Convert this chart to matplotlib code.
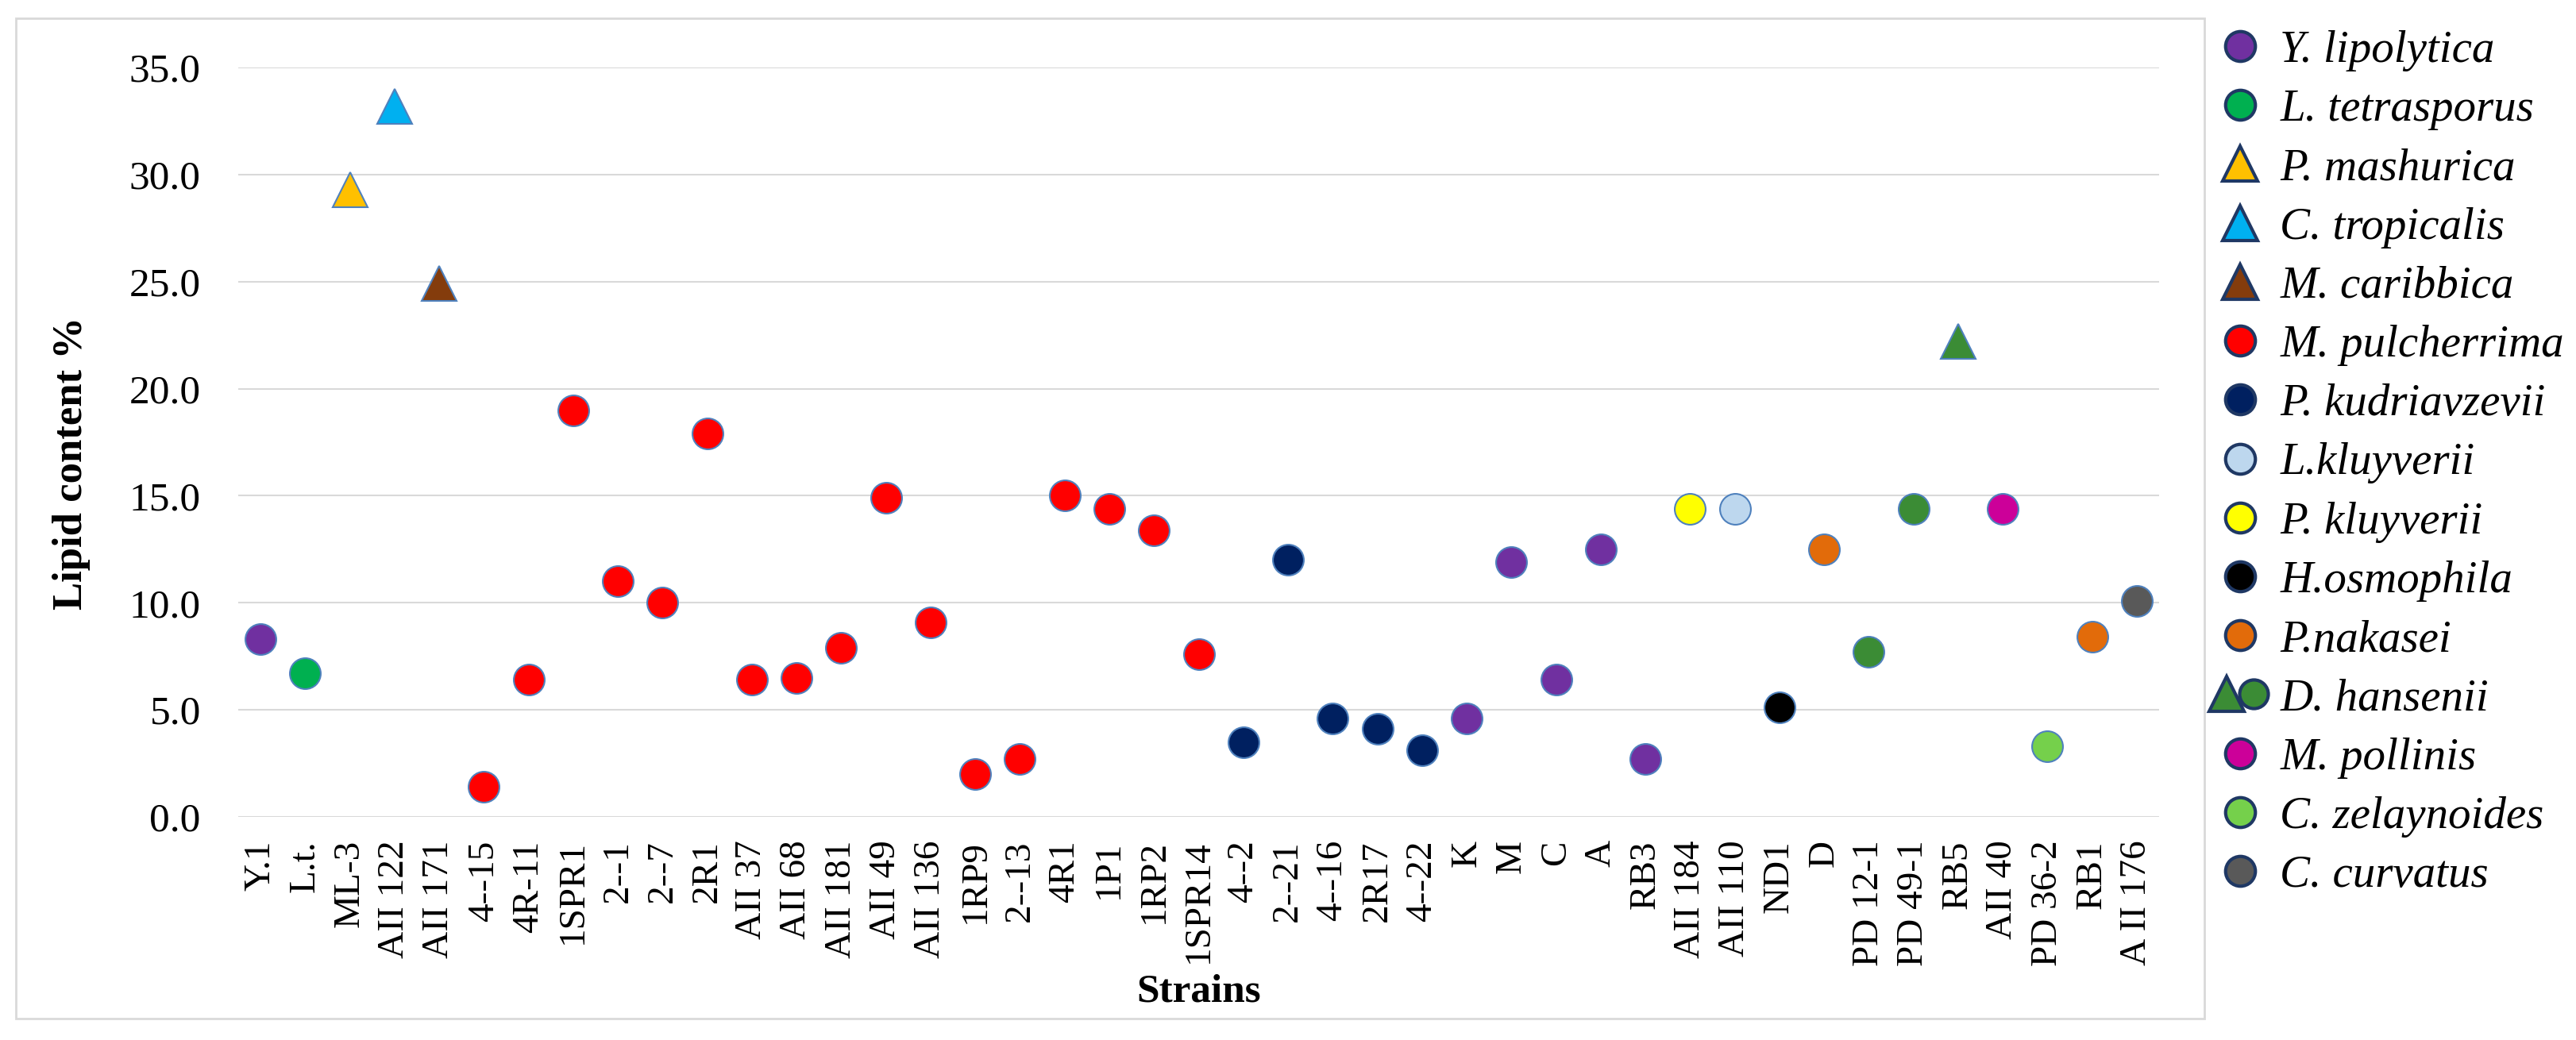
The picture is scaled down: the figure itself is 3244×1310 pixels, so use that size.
import matplotlib
matplotlib.use('Agg')
import matplotlib.pyplot as plt
from matplotlib.lines import Line2D
from matplotlib.patches import Rectangle
from matplotlib.legend_handler import HandlerTuple
from matplotlib.font_manager import FontProperties

plt.rcParams['font.family'] = ['Liberation Serif', 'DejaVu Serif']

# ---- data ----
strains = ['Y.1', 'L.t.', 'ML-3', 'AII 122', 'AII 171', '4--15', '4R-11', '1SPR1',
           '2--1', '2--7', '2R1', 'AII 37', 'AII 68', 'AII 181', 'AII 49', 'AII 136',
           '1RP9', '2--13', '4R1', '1P1', '1RP2', '1SPR14', '4--2', '2--21', '4--16',
           '2R17', '4--22', 'K', 'M', 'C', 'A', 'RB3', 'AII 184', 'AII 110', 'ND1', 'D',
           'PD 12-1', 'PD 49-1', 'RB5', 'AII 40', 'PD 36-2', 'RB1', 'A II 176']

lipid = [8.3, 6.7, 29.3, 33.2, 24.9, 1.4, 6.4, 19.0, 11.0, 10.0, 17.9, 6.4, 6.5,
         7.9, 14.9, 9.1, 2.0, 2.7, 15.0, 14.4, 13.4, 7.6, 3.5, 12.0, 4.6, 4.1, 3.1,
         4.6, 11.9, 6.4, 12.5, 2.7, 14.4, 14.4, 5.1, 12.5, 7.7, 14.4, 22.2, 14.4,
         3.3, 8.4, 10.1]

species = (['Y. lipolytica', 'L. tetrasporus', 'P. mashurica', 'C. tropicalis',
            'M. caribbica'] + ['M. pulcherrima'] * 17 + ['P. kudriavzevii'] * 5
           + ['Y. lipolytica'] * 5
           + ['P. kluyverii', 'L.kluyverii', 'H.osmophila', 'P.nakasei',
              'D. hansenii', 'D. hansenii', 'D. hansenii', 'M. pollinis',
              'C. zelaynoides', 'P.nakasei', 'C. curvatus'])

legend_order = ['Y. lipolytica', 'L. tetrasporus', 'P. mashurica', 'C. tropicalis',
                'M. caribbica', 'M. pulcherrima', 'P. kudriavzevii', 'L.kluyverii',
                'P. kluyverii', 'H.osmophila', 'P.nakasei', 'D. hansenii',
                'M. pollinis', 'C. zelaynoides', 'C. curvatus']

# ---- styles ----
colors = {'Y. lipolytica': '#7030A0', 'L. tetrasporus': '#00B050',
          'P. mashurica': '#FFC000', 'C. tropicalis': '#00B0F0',
          'M. caribbica': '#843C0C', 'M. pulcherrima': '#FF0000',
          'P. kudriavzevii': '#002060', 'L.kluyverii': '#BDD7EE',
          'P. kluyverii': '#FFFF00', 'H.osmophila': '#000000',
          'P.nakasei': '#E26B0A', 'D. hansenii': '#3B8C35',
          'M. pollinis': '#CC0099', 'C. zelaynoides': '#75D04B',
          'C. curvatus': '#595959'}
triangle_strains = ['ML-3', 'AII 122', 'AII 171', 'RB5']
triangle_species = ['P. mashurica', 'C. tropicalis', 'M. caribbica']

W, H = 3244, 1310
fig = plt.figure(figsize=(W / 100, H / 100), dpi=100)
ax_l, ax_r, ax_t, ax_b = 300, 2719, 85, 1029
ax = fig.add_axes([ax_l / W, 1 - ax_b / H, (ax_r - ax_l) / W, (ax_b - ax_t) / H])

# chart-area border
fig.add_artist(Rectangle((20 / W, 1 - 1283 / H), (2776 - 20) / W, (1283 - 23) / H,
                         transform=fig.transFigure, fill=False, ec='#D9D9D9', lw=2))

x = list(range(len(strains)))
for i in x:
    tri = strains[i] in triangle_strains
    ax.plot(i, lipid[i], ls='', marker='^' if tri else 'o',
            ms=32 if tri else 28, mfc=colors[species[i]], mec='#4F81BD',
            mew=1.5, clip_on=False, zorder=3)

ax.set_xlim(-0.5, len(strains) - 0.5)
ax.set_ylim(0, 35)
ax.set_yticks(range(0, 36, 5))
ax.set_yticklabels([f'{v:.1f}' for v in range(0, 36, 5)])
ax.set_xticks(x)
ax.set_xticklabels(strains, rotation=90)
ax.tick_params(axis='x', length=0, pad=21, labelsize=34)
ax.tick_params(axis='y', length=0, pad=34, labelsize=37)
for s in ax.spines.values():
    s.set_visible(False)
ax.yaxis.grid(True, color='#D9D9D9', lw=1.5)
ax.set_axisbelow(True)

ax.set_ylabel('Lipid content %', fontsize=38, fontweight='bold', va='center')
ax.yaxis.set_label_coords((90 - ax_l) / (ax_r - ax_l), (ax_b - 583) / (ax_b - ax_t))
ax.set_xlabel('Strains', fontsize=37, fontweight='bold', va='center')
ax.xaxis.set_label_coords(0.5, (ax_b - 1249) / (ax_b - ax_t))

# legend
handles = []
for name in legend_order:
    kw = dict(ls='', mfc=colors[name], mec='#1F3864', mew=3)
    if name == 'D. hansenii':
        h = (Line2D([], [], marker='^', ms=31, **kw), Line2D([], [], marker='o', ms=26, **kw))
    elif name in triangle_species:
        h = Line2D([], [], marker='^', ms=32, **kw)
    else:
        h = Line2D([], [], marker='o', ms=27, **kw)
    handles.append(h)

fig.legend(handles, legend_order, loc='upper left', bbox_to_anchor=(2787 / W, 1 - 38 / H),
           frameon=False, prop=FontProperties(family='Liberation Serif', style='italic', size=41),
           handlelength=1.2, handletextpad=0.28, labelspacing=0.39, borderpad=0,
           borderaxespad=0, handler_map={tuple: HandlerTuple(ndivide=None, pad=0)})

fig.savefig('out.png', dpi=100)
